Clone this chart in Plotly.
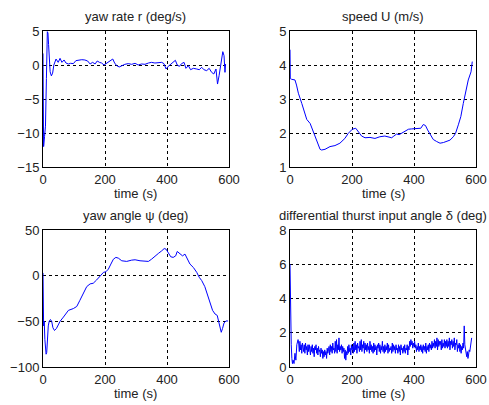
import plotly.graph_objects as go

# ---------------- data ----------------
# yaw rate r (deg/s)
r_t = [0, 2, 5, 8, 11, 14, 16, 18, 20, 23, 27, 31, 35, 42, 49, 55, 61, 68, 74, 82, 89, 98,
       106, 114, 125, 135, 144, 152, 160, 168, 175, 182, 189, 197, 203, 211, 218, 225, 231,
       238, 246, 254, 264, 275, 286, 297, 307, 318, 329, 340, 350, 361, 372, 383, 390, 397,
       404, 412, 420, 427, 433, 440, 447, 455, 461, 469, 476, 485, 496, 504, 512, 519, 528,
       536, 544, 551, 558, 563, 568, 572, 576, 580, 584, 587, 589]
r_v = [1.7, -12.0, -10.5, -9.0, -2.0, 4.9, 4.7, 3.0, 0.5, -1.0, -1.6, -1.2, 0.0, 0.88, 0.39,
       0.98, 0.39, 0.74, 0.29, 0.15, 0.25, 0.2, 0.64, 0.74, 0.78, 0.74, 0.59, 0.15, 0.39, 0.15,
       0.59, 0.39, 0.29, 0.0, 0.2, 0.39, 0.59, 0.88, 0.29, -0.1, -0.29, -0.1, 0.1, 0.2, 0.1,
       0.25, 0.0, 0.15, 0.1, 0.29, 0.39, 0.29, 0.39, 0.39, 0.2, -0.59, -0.2, 0.15, 0.39, 0.69,
       0.0, -0.2, 0.2, 0.39, -0.49, -0.1, -0.69, -0.49, -0.59, -0.69, -0.34, -0.69, -0.83,
       -0.49, -1.08, -1.32, -0.59, -2.8, -1.57, -0.34, 1.13, 1.96, 1.37, -1.08, 0.15]

# speed U (m/s)
u_t = [0, 1, 5, 16, 21, 27, 38, 48, 54, 65, 75, 86, 97, 102, 113, 129, 145, 161, 177, 188,
       201, 212, 220, 231, 242, 258, 274, 290, 306, 317, 328, 335, 344, 352, 360, 371, 382,
       392, 403, 414, 422, 430, 437, 444, 452, 462, 473, 484, 495, 505, 516, 527, 534, 543,
       551, 559, 567, 575, 584, 588]
u_v = [4.45, 3.6, 3.58, 3.56, 3.41, 3.17, 2.87, 2.53, 2.4, 2.28, 2.04, 1.75, 1.52, 1.5, 1.52,
       1.6, 1.63, 1.7, 1.84, 1.99, 2.11, 2.14, 2.04, 1.91, 1.86, 1.87, 1.84, 1.89, 1.91, 1.89,
       1.86, 1.91, 1.97, 1.95, 1.99, 2.04, 2.11, 2.12, 2.13, 2.14, 2.14, 2.25, 2.22, 2.09, 1.97,
       1.81, 1.75, 1.7, 1.72, 1.75, 1.79, 1.89, 1.99, 2.24, 2.48, 2.87, 3.26, 3.56, 3.8, 4.1]

# yaw angle psi (deg)
psi_t = [0, 1, 2, 3, 4, 6, 8, 10, 12, 14, 17, 20, 24, 28, 32, 37, 43, 49, 55, 66, 82, 98,
         109, 119, 130, 141, 152, 162, 173, 184, 195, 203, 211, 219, 227, 235, 243, 254, 270,
         286, 297, 313, 329, 340, 350, 361, 372, 383, 391, 397, 404, 412, 420, 428, 433, 442,
         450, 458, 465, 474, 485, 496, 504, 512, 522, 530, 539, 547, 555, 562, 567, 571, 575,
         579, 584, 590, 597]
psi_v = [3, -22, -55, -25, -50, -70, -80, -86, -84, -70, -55, -50, -48, -50, -57, -60, -58,
         -54, -50, -45.3, -38, -36, -33.7, -27, -20, -12, -9, -8.3, -4.7, 0, 3.6, 4.3, 7.2,
         12.7, 18, 20, 19.2, 16.3, 15.6, 17, 17.4, 16.3, 16.3, 15.6, 18, 21.7, 24.3, 27.2, 29.7,
         29, 25.4, 20.7, 20, 21.7, 26.5, 24.3, 21.7, 23.6, 19.2, 12.7, 9, 3.6, -1.8, -5.4, -12,
         -20, -29, -38, -42, -43.5, -50.7, -58, -62, -58, -51.8, -49.6, -49.6]

# differential thrust input angle delta (deg)
d_t0 = [0, 1, 2, 3, 4, 6, 8, 10, 13, 16, 19, 22]
d_v0 = [6.0, 3.7, 2.2, 2.7, 1.3, 0.5, 0.2, 0.4, 0.2, 0.8, 0.4, 1.3]
# sampled every 2 s from t = 26 s
d_v1 = [1.6, 1.4, 0.9, 1.5, 1.0, 1.3, 0.8, 1.4, 1.1, 0.9,
        1.3, 0.8, 1.4, 1.0, 1.2, 0.7, 1.3, 0.9, 1.3, 1.0,
        0.7, 1.2, 0.9, 1.3, 0.8, 1.1, 0.6, 1.2, 1.0, 1.3,
        0.8, 1.1, 0.7, 1.2, 0.9, 1.0, 0.6, 1.1, 0.8, 1.0,
        0.5, 0.9, 0.6, 1.0, 0.7, 0.9, 0.5, 1.1, 0.8, 1.0,
        1.2, 0.7, 1.3, 0.9, 1.2, 0.8, 1.4, 1.0, 1.1, 0.8,
        1.5, 0.9, 1.6, 0.8, 1.3, 1.0, 1.7, 0.9, 1.2, 1.0,
        1.3, 0.8, 1.2, 0.9, 1.1, 0.5, 1.0, 0.4, 0.9, 0.7,
        1.2, 0.8, 1.3, 0.9, 1.1, 0.7, 1.3, 1.0, 1.2, 0.8,
        1.4, 0.9, 1.5, 1.0, 1.3, 0.8, 1.4, 1.1, 1.2, 0.9,
        1.5, 1.0, 1.6, 0.9, 1.3, 1.1, 1.5, 0.8, 1.4, 1.0,
        1.3, 0.9, 1.4, 1.0, 1.2, 0.8, 1.5, 1.0, 1.3, 0.9,
        1.2, 0.8, 1.4, 0.9, 1.3, 1.0, 1.2, 0.7, 1.3, 1.1,
        1.4, 0.9, 1.3, 0.8, 1.2, 1.0, 1.5, 0.9, 1.2, 0.8,
        1.3, 0.9, 1.2, 1.0, 1.4, 0.8, 1.3, 0.9, 1.1, 1.0,
        1.2, 0.8, 1.4, 0.9, 1.3, 1.0, 1.2, 0.8, 1.3, 1.0,
        1.1, 0.8, 1.3, 0.9, 1.2, 0.7, 1.3, 1.0, 1.1, 0.8,
        1.2, 0.9, 1.3, 0.8, 1.1, 1.0, 1.3, 0.7, 1.2, 1.0,
        1.5, 1.2, 1.6, 1.3, 1.5, 1.1, 1.4, 1.2, 1.5, 1.1,
        1.3, 0.9, 1.2, 1.0, 1.4, 0.9, 1.2, 1.0, 1.3, 0.9,
        1.2, 0.8, 1.3, 1.0, 1.2, 0.9, 1.4, 0.8, 1.2, 1.0,
        1.3, 0.9, 1.4, 1.1, 1.3, 1.0, 1.5, 1.1, 1.4, 1.2,
        1.6, 1.1, 1.5, 1.2, 1.7, 1.0, 1.6, 1.2, 1.5, 1.3,
        1.5, 1.0, 1.6, 1.1, 1.4, 1.2, 1.6, 1.1, 1.5, 1.2,
        1.6, 1.1, 1.5, 1.2, 1.7, 1.0, 1.5, 1.3, 1.6, 1.1,
        1.5, 1.2, 1.7, 1.0, 1.4, 1.3, 1.6, 0.9, 1.3, 1.1,
        1.4, 0.9, 1.3, 0.8, 1.2, 1.0, 1.4, 1.1, 2.4, 1.3,
        1.1, 0.8, 0.6, 0.9, 0.5, 0.7, 1.0, 0.9, 1.3, 1.5,
        1.7]
d_t1 = list(range(26, 26 + 2 * len(d_v1), 2))
d_t = d_t0 + d_t1
d_v = d_v0 + d_v1

x_ticks = [0, 200, 400, 600]

# ---------------- figure ----------------
W, H = 489, 405
FONT = "Liberation Sans, Arial, sans-serif"
BLUE = "#0000ff"

fig = go.Figure()
series = [(r_t, r_v, "x", "y"), (u_t, u_v, "x2", "y2"),
          (psi_t, psi_v, "x3", "y3"), (d_t, d_v, "x4", "y4")]
for t, v, xa, ya in series:
    fig.add_trace(go.Scatter(x=t, y=v, mode="lines", xaxis=xa, yaxis=ya,
                             line=dict(color=BLUE, width=1), showlegend=False))

colx = [[43 / W, 229 / W], [290 / W, 476 / W]]
rowy = [[1 - 167 / H, 1 - 31 / H], [1 - 367 / H, 1 - 230 / H]]

common = dict(showline=True, linecolor="black", linewidth=1, mirror=True,
              showgrid=True, gridcolor="black", gridwidth=1, griddash="3px,3px",
              zeroline=False, ticks="", automargin=False,
              tickfont=dict(family=FONT, size=13, color="#222222"))

yspecs = [([-15, 5], 5), ([1, 5], 1), ([-100, 50], 50), ([0, 8], 2)]
titles = ["yaw rate r (deg/s)", "speed U (m/s)", "yaw angle ψ (deg)",
          "differential thurst input angle δ (deg)"]
layout = {}
annotations = []
for i in range(4):
    r, c = divmod(i, 2)
    sfx = "" if i == 0 else str(i + 1)
    layout["xaxis" + sfx] = dict(common, domain=colx[c], range=[0, 600],
                                 tickvals=x_ticks, anchor="y" + sfx)
    yr, dt = yspecs[i]
    layout["yaxis" + sfx] = dict(common, domain=rowy[r], range=yr, dtick=dt,
                                 tick0=yr[0], anchor="x" + sfx)
    xc = (colx[c][0] + colx[c][1]) / 2
    ty = 17 if r == 0 else 215.5
    annotations.append(dict(text=titles[i], x=xc, y=1 - ty / H, xref="paper", yref="paper",
                            xanchor="center", yanchor="middle", showarrow=False,
                            font=dict(family=FONT, size=13, color="#222222")))
    xty = 193 if r == 0 else 393
    annotations.append(dict(text="time (s)", x=xc, y=1 - xty / H, xref="paper", yref="paper",
                            xanchor="center", yanchor="middle", showarrow=False,
                            font=dict(family=FONT, size=13, color="#222222")))

fig.update_layout(width=W, height=H, margin=dict(l=0, r=0, t=0, b=0),
                  paper_bgcolor="white", plot_bgcolor="white",
                  annotations=annotations, **layout)

fig.write_html("out.html")
